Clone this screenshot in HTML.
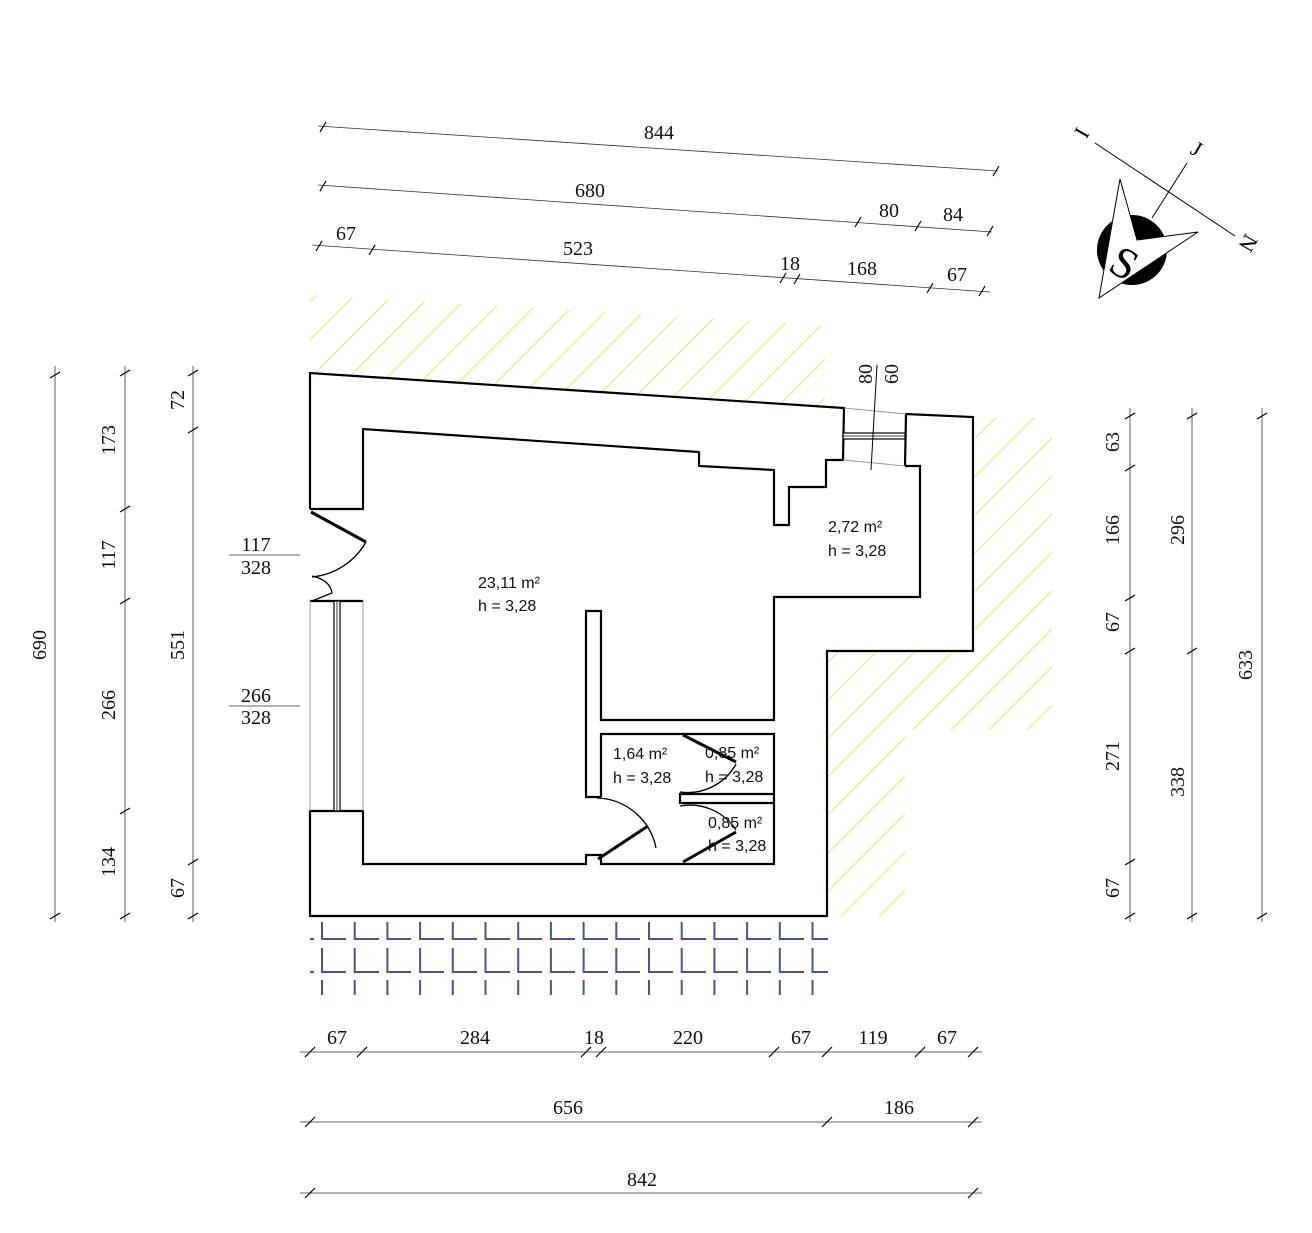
<!DOCTYPE html>
<html><head><meta charset="utf-8"><style>
html,body{margin:0;padding:0;background:#fff}
svg{display:block}
.d{font-family:"Liberation Serif",serif;font-size:20px;fill:#111}
.r{font-family:"Liberation Sans",sans-serif;font-size:16px;fill:#111}
</style></head><body>
<svg width="1312" height="1233" viewBox="0 0 1312 1233" xmlns="http://www.w3.org/2000/svg">
<defs>
<pattern id="h" width="27" height="27" patternUnits="userSpaceOnUse" patternTransform="rotate(45)">
<line x1="0" y1="0" x2="0" y2="27" stroke="#e6e67a" stroke-width="2.2"/>
</pattern>
</defs>
<polygon points="310,295 825,325 825,407 310,373" fill="url(#h)"/>
<polygon points="975,418 1052,418 1052,730 905,730 905,916 827,916 827,651 975,651" fill="url(#h)"/>

<g fill="#fff" stroke="#000" stroke-width="2.2" stroke-linejoin="miter">
<polyline points="310,509 310,373 844,408 843,460 826,460 826,487 789,487 789,525 774,525 774,470 699,466 699,452 363,429 363,509 310,509"/>
<polyline fill="none" points="905,466 906,414 973,417 973,651 827,651 827,916 310,916 310,811 363,811 363,864 586,864 586,855 601,855 601,864 774,864 774,734 601,734 601,797"/>
<polyline fill="none" points="905,466 920,466 920,597 774,597 774,720 601,720 601,611 586,611 586,797 601,797"/>
<polyline fill="none" points="774,794 680,794 680,803 774,803"/>
<line x1="310" y1="601" x2="363" y2="601"/>
</g>
<!-- windows -->
<g stroke="#999" stroke-width="1" fill="none">
<line x1="844" y1="408" x2="906" y2="414"/><line x1="843" y1="460" x2="905" y2="466"/>
<line x1="310" y1="601" x2="310" y2="811"/><line x1="363" y1="601" x2="363" y2="811"/>
</g>
<rect x="843" y="433" width="62" height="6" fill="#fff" stroke="#000" stroke-width="1.2"/>
<line x1="843" y1="436" x2="905" y2="436" stroke="#000" stroke-width="0.8"/>
<rect x="334" y="601" width="6" height="210" fill="#fff" stroke="#000" stroke-width="1.2"/>
<line x1="337" y1="601" x2="337" y2="811" stroke="#000" stroke-width="0.8"/>
<line x1="877" y1="365" x2="871" y2="470" stroke="#000" stroke-width="1"/>
<text class="d" font-size="17" transform="translate(872,384) rotate(-90)">80</text>
<text class="d" font-size="17" transform="translate(898,384) rotate(-90)">60</text>

<!-- doors -->
<g stroke="#000" fill="none" stroke-width="1.3">
<line x1="311" y1="512" x2="366" y2="542" stroke-width="3"/>
<path d="M366,542 A70,70 0 0 1 312,577"/>
<path d="M312,576 Q330,580 332,593 L312,601"/>
<line x1="598" y1="859" x2="648" y2="826" stroke-width="3"/>
<path d="M597,798 A62,62 0 0 1 656,848"/>
<line x1="683" y1="735" x2="736" y2="762" stroke-width="3"/>
<path d="M680,792 A55,55 0 0 0 736,764"/>
<line x1="683" y1="862" x2="736" y2="832" stroke-width="3"/>
<path d="M680,806 A55,55 0 0 1 736,830"/>
</g>

<!-- bottom pattern -->
<g stroke="#4a5590" stroke-width="2" fill="none">
<path d="M322,922 V939 H346 M322,948 V972 H346 M322,980 V995 M354.7,922 V939 H379 M354.7,948 V972 H379 M354.7,980 V995 M387.4,922 V939 H411 M387.4,948 V972 H411 M387.4,980 V995 M420.1,922 V939 H444 M420.1,948 V972 H444 M420.1,980 V995 M452.8,922 V939 H477 M452.8,948 V972 H477 M452.8,980 V995 M485.5,922 V939 H510 M485.5,948 V972 H510 M485.5,980 V995 M518.2,922 V939 H542 M518.2,948 V972 H542 M518.2,980 V995 M550.9,922 V939 H575 M550.9,948 V972 H575 M550.9,980 V995 M583.6,922 V939 H608 M583.6,948 V972 H608 M583.6,980 V995 M616.3,922 V939 H640 M616.3,948 V972 H640 M616.3,980 V995 M649,922 V939 H673 M649,948 V972 H673 M649,980 V995 M681.7,922 V939 H706 M681.7,948 V972 H706 M681.7,980 V995 M714.4,922 V939 H738 M714.4,948 V972 H738 M714.4,980 V995 M747.1,922 V939 H771 M747.1,948 V972 H771 M747.1,980 V995 M779.8,922 V939 H804 M779.8,948 V972 H804 M779.8,980 V995 M812.5,922 V939 H828 M812.5,948 V972 H828 M812.5,980 V995 M310,939 H314 M310,972 H314"/>
</g>

<!-- room labels -->
<text class="r" x="478" y="588">23,11 m²</text><text class="r" x="478" y="611">h = 3,28</text>
<text class="r" x="828" y="532">2,72 m²</text><text class="r" x="828" y="556">h = 3,28</text>
<text class="r" x="613" y="759">1,64 m²</text><text class="r" x="613" y="783">h = 3,28</text>
<text class="r" x="705" y="758">0,85 m²</text><text class="r" x="705" y="782">h = 3,28</text>
<text class="r" x="708" y="828">0,85 m²</text><text class="r" x="708" y="851">h = 3,28</text>

<!-- dimension lines -->
<g stroke="#333" stroke-width="0.8" fill="none">
<line x1="318" y1="126" x2="998" y2="171"/>
<line x1="318" y1="185" x2="992" y2="232"/>
<line x1="312" y1="245" x2="990" y2="292"/>
<line x1="55" y1="366" x2="55" y2="922"/>
<line x1="125" y1="366" x2="125" y2="922"/>
<line x1="193" y1="366" x2="193" y2="922"/>
<line x1="1130" y1="408" x2="1130" y2="922"/>
<line x1="1192" y1="408" x2="1192" y2="922"/>
<line x1="1262" y1="408" x2="1262" y2="922"/>
<line x1="300" y1="1052" x2="982" y2="1052"/>
<line x1="300" y1="1122" x2="982" y2="1122"/>
<line x1="300" y1="1193" x2="982" y2="1193"/>
<line x1="229" y1="555" x2="300" y2="555"/>
<line x1="229" y1="706" x2="300" y2="706"/>
</g>
<g stroke="#000" stroke-width="1.2">
<path d="M320,132 l6,-10 M993,176 l6,-10 M320,191 l6,-10 M855,227 l6,-10 M915,231 l6,-10 M987,236 l6,-10 M316,251 l6,-10 M369,255 l6,-10 M780,283 l6,-10 M794,284 l6,-10 M927,293 l6,-10 M979,296 l6,-10"/>
<path d="M50,378 l10,-6 M50,919 l10,-6 M120,376 l10,-6 M120,512 l10,-6 M120,604 l10,-6 M120,814 l10,-6 M120,919 l10,-6 M188,376 l10,-6 M188,433 l10,-6 M188,865 l10,-6 M188,919 l10,-6"/>
<path d="M1125,419 l10,-6 M1125,471 l10,-6 M1125,601 l10,-6 M1125,654 l10,-6 M1125,865 l10,-6 M1125,919 l10,-6 M1187,419 l10,-6 M1187,654 l10,-6 M1187,919 l10,-6 M1257,419 l10,-6 M1257,919 l10,-6"/>
<path d="M305,1057 l10,-10 M357,1057 l10,-10 M581,1057 l10,-10 M596,1057 l10,-10 M769,1057 l10,-10 M822,1057 l10,-10 M915,1057 l10,-10 M968,1057 l10,-10 M305,1127 l10,-10 M822,1127 l10,-10 M968,1127 l10,-10 M305,1198 l10,-10 M968,1198 l10,-10"/>
</g>
<g class="d" text-anchor="middle">
<text x="659" y="139">844</text><text x="590" y="197">680</text><text x="889" y="217">80</text><text x="953" y="221">84</text>
<text x="346" y="240">67</text><text x="578" y="255">523</text><text x="790" y="270">18</text><text x="862" y="275">168</text><text x="957" y="281">67</text>
<text x="337" y="1044">67</text><text x="475" y="1044">284</text><text x="594" y="1044">18</text><text x="688" y="1044">220</text><text x="801" y="1044">67</text><text x="873" y="1044">119</text><text x="947" y="1044">67</text>
<text x="568" y="1114">656</text><text x="899" y="1114">186</text><text x="642" y="1186">842</text>
<text x="256" y="551">117</text><text x="256" y="574">328</text><text x="256" y="702">266</text><text x="256" y="724">328</text>
<text transform="translate(46,645) rotate(-90)">690</text>
<text transform="translate(115,440) rotate(-90)">173</text>
<text transform="translate(115,555) rotate(-90)">117</text>
<text transform="translate(115,705) rotate(-90)">266</text>
<text transform="translate(115,862) rotate(-90)">134</text>
<text transform="translate(184,400) rotate(-90)">72</text>
<text transform="translate(184,645) rotate(-90)">551</text>
<text transform="translate(184,888) rotate(-90)">67</text>
<text transform="translate(1119,442) rotate(-90)">63</text>
<text transform="translate(1119,530) rotate(-90)">166</text>
<text transform="translate(1119,622) rotate(-90)">67</text>
<text transform="translate(1119,756) rotate(-90)">271</text>
<text transform="translate(1119,888) rotate(-90)">67</text>
<text transform="translate(1184,530) rotate(-90)">296</text>
<text transform="translate(1184,782) rotate(-90)">338</text>
<text transform="translate(1252,665) rotate(-90)">633</text>
</g>

<!-- compass -->
<line x1="1095" y1="143" x2="1235" y2="236" stroke="#000" stroke-width="1"/>
<line x1="1152" y1="218" x2="1187" y2="163" stroke="#000" stroke-width="1"/>
<circle cx="1132" cy="250" r="35" fill="#000"/>
<polygon points="1120,179 1137,240 1198,232 1099,298" fill="#fff" stroke="#000" stroke-width="1"/>
<text x="1125" y="278" font-family="Liberation Serif,serif" font-size="44" fill="#000" text-anchor="middle" transform="rotate(30 1125 262)">S</text>
<text x="1082" y="140" font-family="Liberation Serif,serif" font-size="22" text-anchor="middle" transform="rotate(-60 1082 133)">I</text>
<text x="1196" y="156" font-family="Liberation Serif,serif" font-size="22" text-anchor="middle" transform="rotate(30 1196 150)">J</text>
<text x="1248" y="250" font-family="Liberation Serif,serif" font-size="22" text-anchor="middle" transform="rotate(120 1248 243)">N</text>
</svg>
</body></html>
